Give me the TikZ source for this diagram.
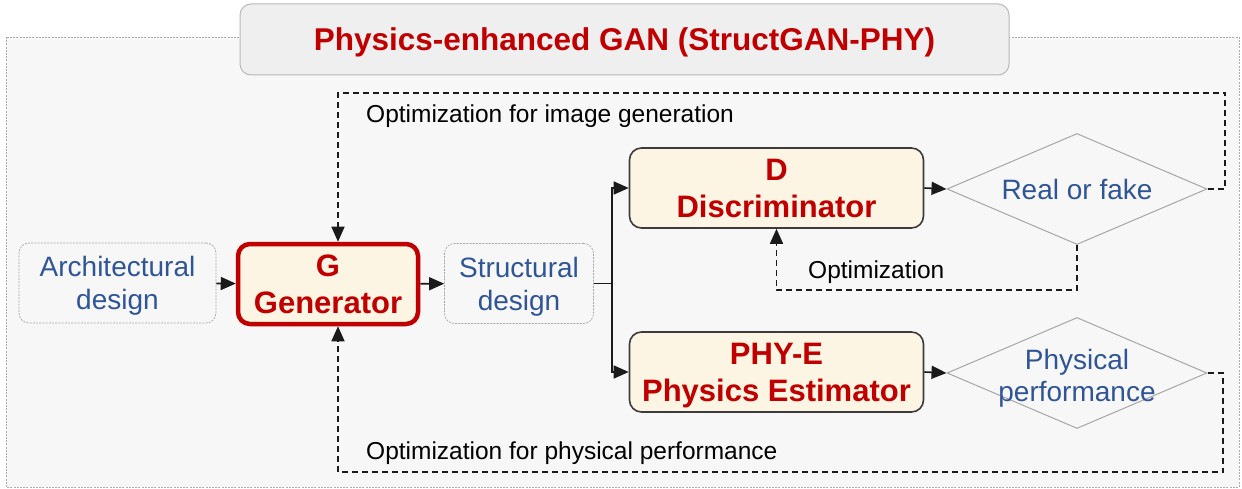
\documentclass[tikz,border=0pt]{standalone}
\usepackage{fontspec}
\setmainfont{Liberation Sans}
\usetikzlibrary{shapes.geometric,arrows.meta}
\definecolor{ured}{HTML}{C00000}
\definecolor{ublue}{HTML}{2F5597}
\definecolor{ucream}{HTML}{FDF5E3}
\definecolor{ubg}{HTML}{F7F7F7}
\definecolor{utitle}{HTML}{EFEFEF}
\definecolor{ugrayline}{HTML}{A6A6A6}
\definecolor{udark}{HTML}{1A1A1A}
\tikzset{
  x=1pt, y=-1pt,
  boxbase/.style={rectangle, rounded corners=12pt, fill=ucream, align=center,
    text=ured, font=\bfseries\fontsize{31}{37}\selectfont, text depth=0pt, inner sep=0pt},
  gbox/.style={boxbase, draw=ured, line width=4.5pt, minimum width=180pt, minimum height=80pt},
  dbox/.style={boxbase, draw=udark!85, line width=1.6pt, minimum width=294pt, minimum height=80pt},
  inbox/.style={rectangle, rounded corners=10pt, draw=gray!70, line width=0.7pt,
    dash pattern=on 2pt off 1.2pt, align=center, text=ublue,
    font=\fontsize{28}{33}\selectfont, text depth=0pt, minimum height=80pt, inner sep=0pt},
  dmd/.style={diamond, draw=ugrayline, line width=1pt, minimum width=260pt,
    minimum height=111pt, inner sep=0pt},
  dmdtext/.style={text=ublue, align=center, font=\fontsize{28}{32}\selectfont,
    text depth=0pt, inner sep=0pt},
  lbl/.style={font=\fontsize{24.5}{28}\selectfont, anchor=base west, inner sep=0pt},
  tipx/.style={-{Triangle[length=15pt,width=13pt]}},
  arr/.style={line width=1.6pt, draw=udark, tipx},
  dsh/.style={line width=1.6pt, draw=udark, dash pattern=on 6pt off 4pt},
  dsharr/.style={dsh, tipx},
}
\begin{document}
\begin{tikzpicture}
\useasboundingbox (0,0) rectangle (1242,489);
% outer panel
\draw[fill=ubg, draw=gray!65, line width=0.8pt, dash pattern=on 2pt off 1.2pt]
  (6,37) rectangle (1239,487);
% title
\node[rectangle, rounded corners=11pt, draw=gray!55, line width=1pt, fill=utitle,
  minimum width=769pt, minimum height=71pt, inner sep=0pt, text=ured,
  font=\bfseries\fontsize{31.5}{36}\selectfont, text height=23pt, text depth=0pt]
  (title) at (624.5,39.5) {Physics-enhanced GAN (StructGAN-PHY)};

% nodes
\node[inbox, minimum width=197pt] (arch) at (117.5,283) {Architectural\\design};
\node[gbox] (G) at (328,284) {G\\Generator};
\node[inbox, minimum width=149pt] (S) at (519,283.5) {Structural\\design};
\node[dbox] (D) at (776.5,188) {D\\Discriminator};
\node[dbox] (P) at (776.5,372) {PHY-E\\Physics Estimator};
\node[dmd] (dm1) at (1077,189) {};
\node[dmdtext] (t1) at (dm1.center) {Real or fake};
\node[dmd] (dm2) at (1077,373) {};
\node[dmdtext] (t2) at (1077,375) {Physical\\performance};

% coordinates
\coordinate (br) at (612,283.5);
\coordinate (gline) at (338,0);
\coordinate (tr) at (1225,93);
\coordinate (ob) at (1077,290);
\coordinate (brr) at (1223,472);

% solid connectors
\draw[arr] (arch) -- (G);
\draw[arr] (G) -- (S);
\draw[line width=1.6pt, draw=udark] (S.east) -- (br);
\draw[arr] (br) |- (D.west);
\draw[arr] (br) |- (P.west);
\draw[arr] (D.east) -- (dm1.west);
\draw[arr] (P.east) -- (dm2.west);

% dashed feedback
\draw[dsharr] (dm1.east) -| (tr) -| (G.north -| gline);
\draw[dsharr] (dm1.south) -- (ob) -| (D.south);
\draw[dsharr] (dm2.east) -| (brr) -| (G.south -| gline);

% labels
\node[lbl] (l1) at (366,123) {Optimization for image generation};
\node[lbl] (l2) at (808,278) {Optimization};
\node[lbl] (l3) at (366,459) {Optimization for physical performance};
\end{tikzpicture}
\end{document}
